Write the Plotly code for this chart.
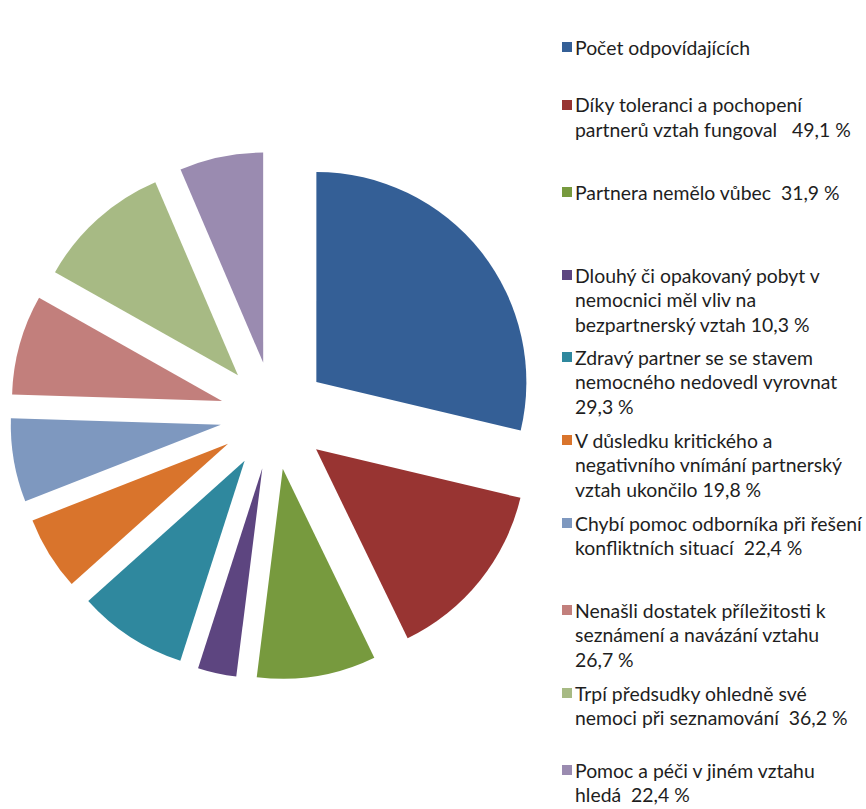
import plotly.graph_objects as go

W, H = 866, 809

labels = [
    "Počet odpovídajících",
    "Díky toleranci a pochopení partnerů vztah fungoval 49,1 %",
    "Partnera nemělo vůbec 31,9 %",
    "Dlouhý či opakovaný pobyt v nemocnici měl vliv na bezpartnerský vztah 10,3 %",
    "Zdravý partner se se stavem nemocného nedovedl vyrovnat 29,3 %",
    "V důsledku kritického a negativního vnímání partnerský vztah ukončilo 19,8 %",
    "Chybí pomoc odborníka při řešení konfliktních situací 22,4 %",
    "Nenašli dostatek příležitosti k seznámení a navázání vztahu 26,7 %",
    "Trpí předsudky ohledně své nemoci při seznamování 36,2 %",
    "Pomoc a péči v jiném vztahu hledá 22,4 %",
]
values = [116, 57, 37, 12, 34, 23, 26, 31, 42, 26]
colors = ["#345f96", "#983432", "#779a3e", "#5d4580", "#2f889e",
          "#d9742c", "#7e98bf", "#c27f7c", "#a7ba84", "#9a8bb0"]

legend_lines = [
    ["Počet odpovídajících"],
    ["Díky toleranci a pochopení", "partnerů vztah fungoval   49,1 %"],
    ["Partnera nemělo vůbec  31,9 %"],
    ["Dlouhý či opakovaný pobyt v", "nemocnici měl vliv na", "bezpartnerský vztah 10,3 %"],
    ["Zdravý partner se se stavem", "nemocného nedovedl vyrovnat", "29,3 %"],
    ["V důsledku kritického a", "negativního vnímání partnerský", "vztah ukončilo 19,8 %"],
    ["Chybí pomoc odborníka při řešení", "konfliktních situací  22,4 %"],
    ["Nenašli dostatek příležitosti k", "seznámení a navázání vztahu", "26,7 %"],
    ["Trpí předsudky ohledně své", "nemoci při seznamování  36,2 %"],
    ["Pomoc a péči v jiném vztahu", "hledá  22,4 %"],
]
legend_top_y = [47, 105, 192, 275, 357, 440, 523, 610, 693, 770]
line_h = 24.7

pull = 0.257
cx, cy = 274, 415.5
R = 264  # radius incl. pull

fig = go.Figure(go.Pie(
    labels=labels, values=values, sort=False, direction="clockwise",
    rotation=0, pull=[pull] * len(values),
    marker=dict(colors=colors, line=dict(width=0)),
    textinfo="none", showlegend=False,
    domain=dict(x=[(cx - R) / W, (cx + R) / W], y=[1 - (cy + R) / H, 1 - (cy - R) / H]),
))

shapes = []
annotations = []
font = dict(family="Lato", size=19.4, color="#1e1e1e")
for i, lines in enumerate(legend_lines):
    y0 = legend_top_y[i]
    shapes.append(dict(type="rect", xref="paper", yref="paper",
                       x0=562 / W, x1=572 / W, y0=1 - (y0 + 5) / H, y1=1 - (y0 - 5) / H,
                       fillcolor=colors[i], line=dict(width=0)))
    for j, t in enumerate(lines):
        yy = y0 + j * line_h
        annotations.append(dict(text=t, xref="paper", yref="paper", x=573 / W, y=1 - yy / H,
                                xanchor="left", yanchor="middle", showarrow=False, font=font))

fig.update_layout(width=W, height=H, margin=dict(l=0, r=0, t=0, b=0),
                  paper_bgcolor="white", plot_bgcolor="white",
                  shapes=shapes, annotations=annotations)
fig.write_html("out.html")
